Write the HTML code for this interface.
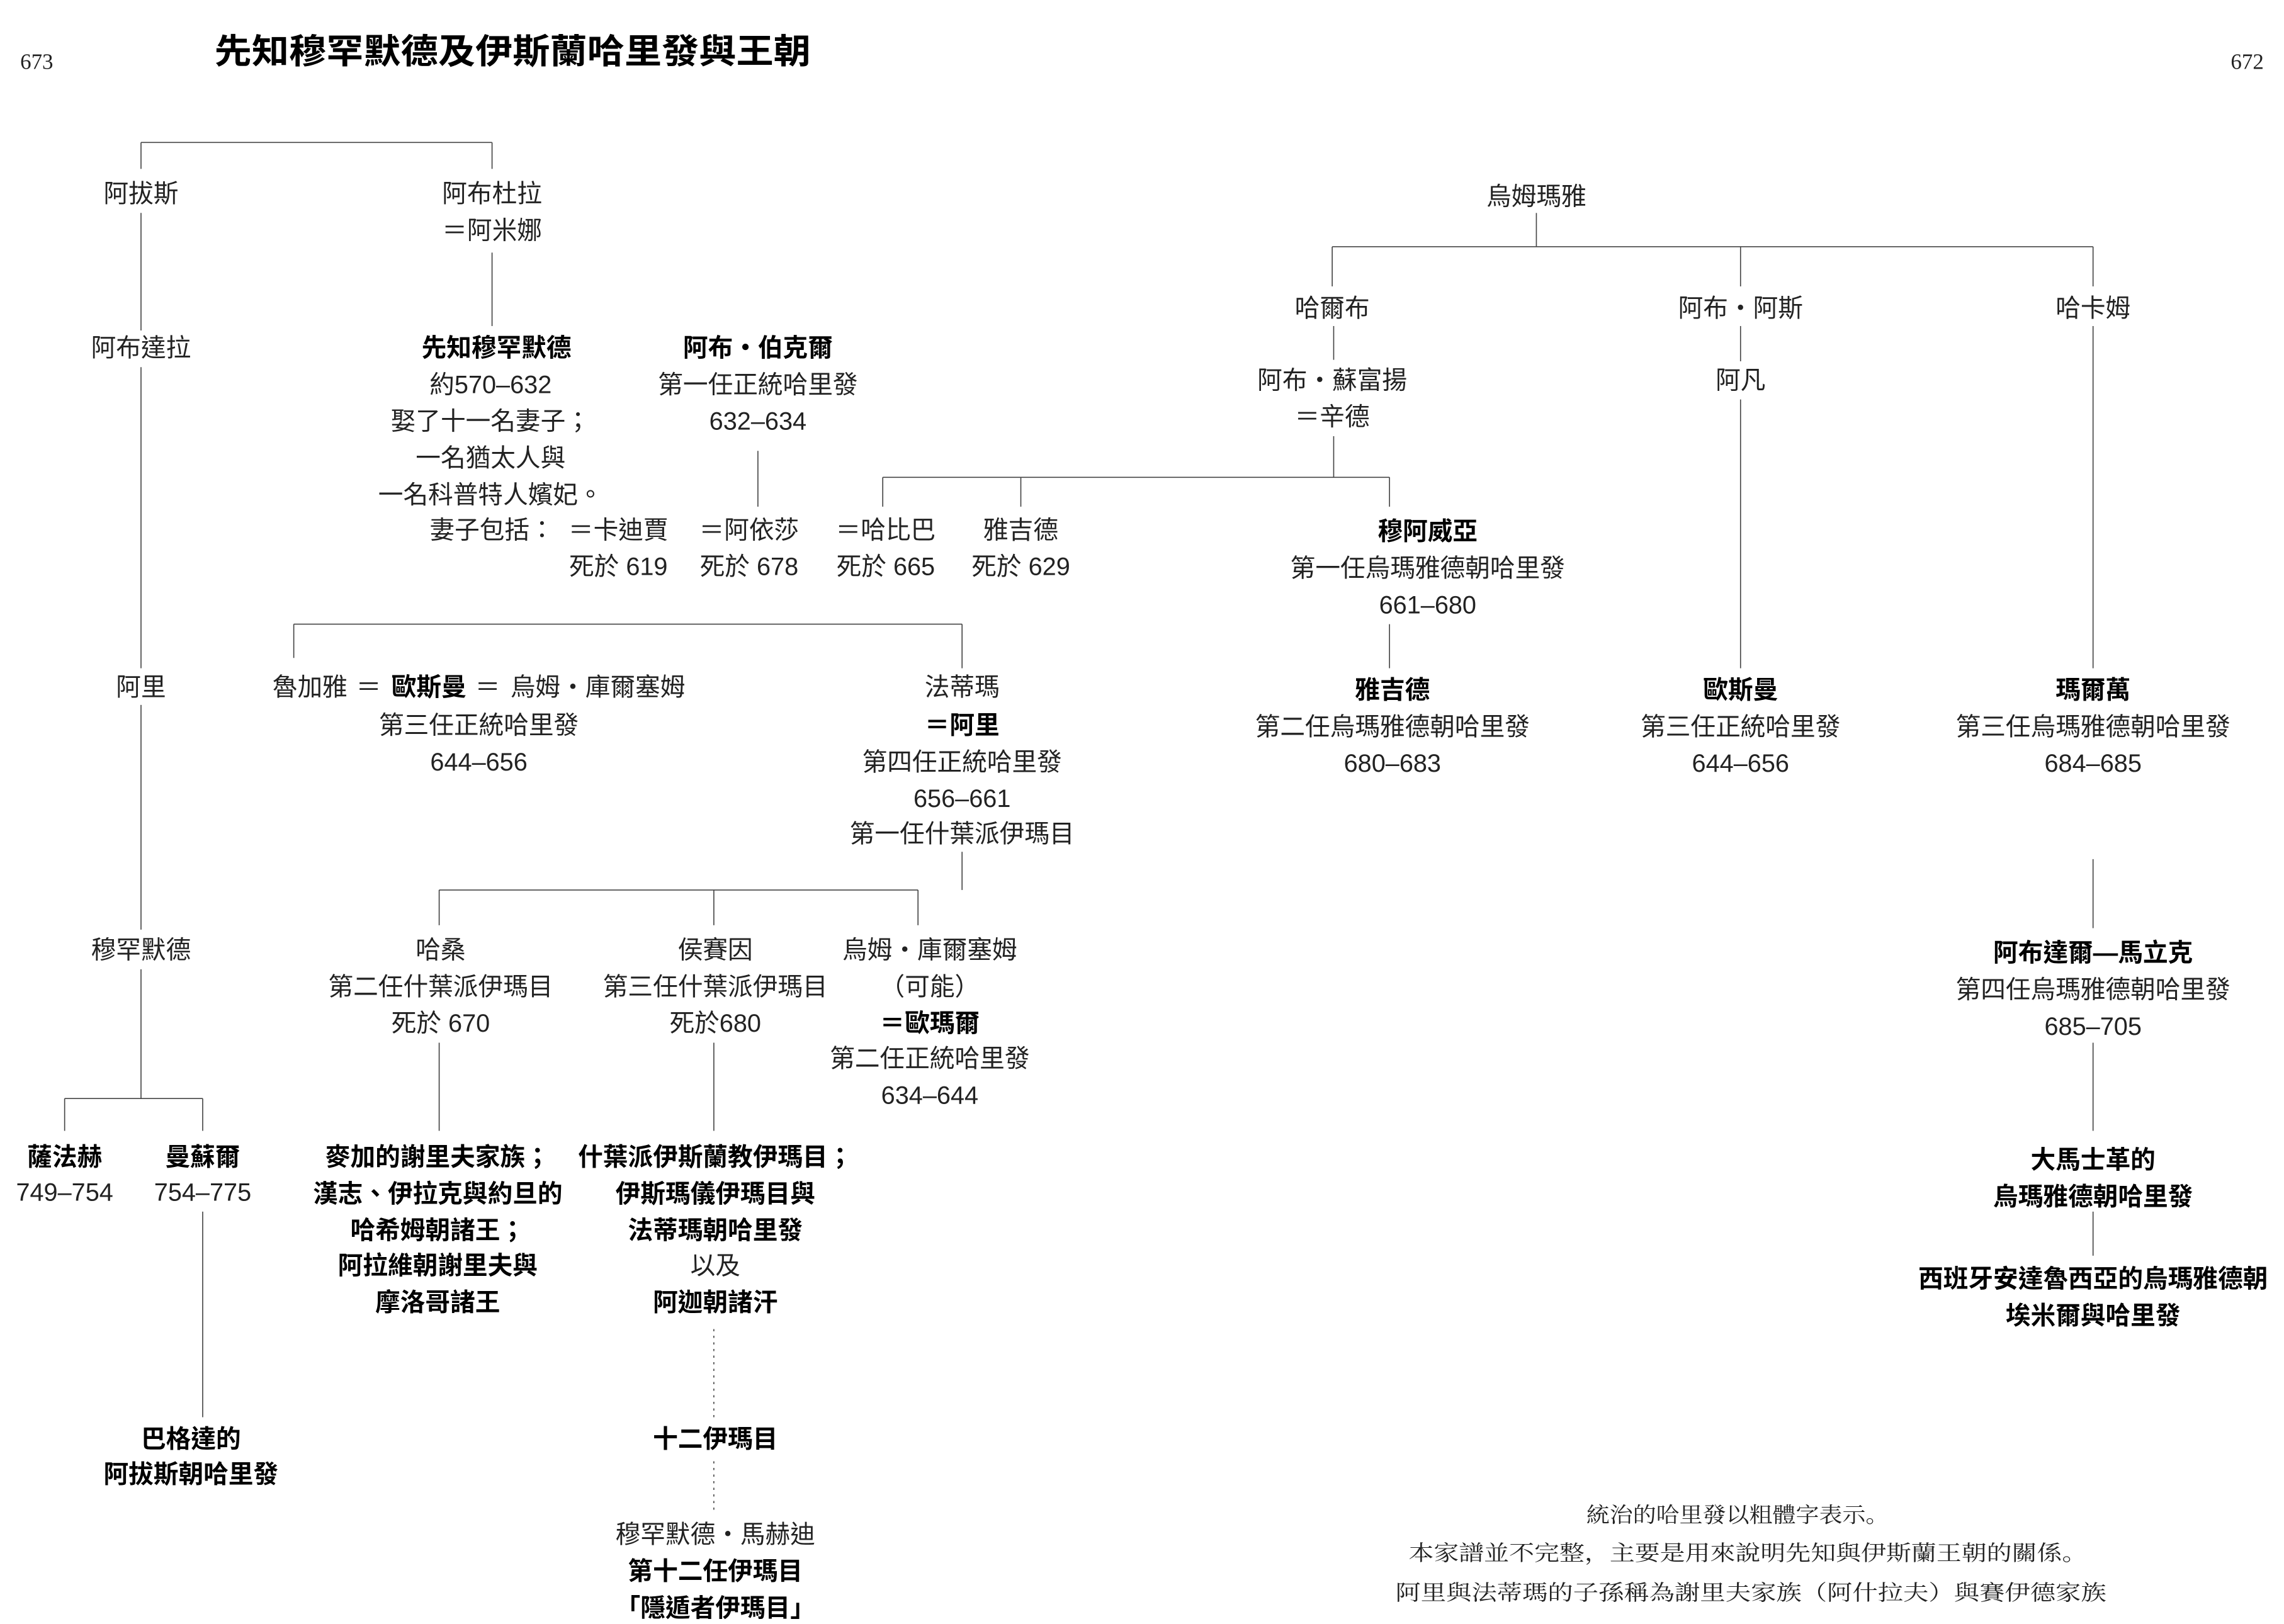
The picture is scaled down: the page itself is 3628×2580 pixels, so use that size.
<!DOCTYPE html>
<html><head><meta charset="utf-8"><style>
html,body{margin:0;padding:0;background:#fff;}
svg{display:block;}
text{font-family:"Liberation Sans","Noto Sans CJK TC",sans-serif;font-size:17px;fill:#222;text-anchor:middle;dominant-baseline:central;}
.b{font-weight:bold;fill:#000;}
.n{font-family:"Liberation Serif","Noto Serif CJK SC",serif;font-size:14.5px;}
line{stroke:#444;stroke-width:0.7;}
.d{stroke-dasharray:1.5 3;}
</style></head><body>
<svg width="3628" height="2580" viewBox="0 0 1555 1105.8" preserveAspectRatio="none">
<text x="25" y="42" style="font-family:'Liberation Serif',serif;font-size:15px">673</text>
<text x="1530" y="42" style="font-family:'Liberation Serif',serif;font-size:15px">672</text>
<text x="349" y="35" class="b" style="font-size:23.5px" textLength="406" lengthAdjust="spacingAndGlyphs">先知穆罕默德及伊斯蘭哈里發與王朝</text>

<!-- lines left -->
<line x1="96" y1="97" x2="335" y2="97"/>
<line x1="96" y1="97" x2="96" y2="115"/>
<line x1="335" y1="97" x2="335" y2="115"/>
<line x1="96" y1="145" x2="96" y2="225"/>
<line x1="96" y1="250" x2="96" y2="455"/>
<line x1="96" y1="480" x2="96" y2="633"/>
<line x1="96" y1="660" x2="96" y2="748"/>
<line x1="44" y1="748" x2="138" y2="748"/>
<line x1="44" y1="748" x2="44" y2="770"/>
<line x1="138" y1="748" x2="138" y2="770"/>
<line x1="138" y1="825" x2="138" y2="965"/>
<line x1="335" y1="172" x2="335" y2="222"/>
<line x1="516" y1="307" x2="516" y2="345"/>
<line x1="601" y1="325" x2="946" y2="325"/>
<line x1="601" y1="325" x2="601" y2="345"/>
<line x1="695" y1="325" x2="695" y2="345"/>
<line x1="946" y1="325" x2="946" y2="345"/>
<line x1="908" y1="297" x2="908" y2="325"/>
<line x1="908" y1="222" x2="908" y2="245"/>
<!-- umayya -->
<line x1="1046" y1="145" x2="1046" y2="168"/>
<line x1="907" y1="168" x2="1425" y2="168"/>
<line x1="907" y1="168" x2="907" y2="195"/>
<line x1="1185" y1="168" x2="1185" y2="195"/>
<line x1="1425" y1="168" x2="1425" y2="195"/>
<line x1="1185" y1="222" x2="1185" y2="246"/>
<line x1="1185" y1="272" x2="1185" y2="455"/>
<line x1="1425" y1="222" x2="1425" y2="455"/>
<line x1="946" y1="425" x2="946" y2="455"/>
<line x1="1425" y1="585" x2="1425" y2="632"/>
<line x1="1425" y1="710" x2="1425" y2="770"/>
<line x1="1425" y1="825" x2="1425" y2="855"/>
<!-- middle -->
<line x1="200" y1="425" x2="655" y2="425"/>
<line x1="200" y1="425" x2="200" y2="448"/>
<line x1="655" y1="425" x2="655" y2="455"/>
<line x1="655" y1="580" x2="655" y2="606"/>
<line x1="299" y1="606" x2="625" y2="606"/>
<line x1="299" y1="606" x2="299" y2="630"/>
<line x1="486" y1="606" x2="486" y2="630"/>
<line x1="625" y1="606" x2="625" y2="630"/>
<line x1="299" y1="710" x2="299" y2="770"/>
<line x1="486" y1="710" x2="486" y2="770"/>
<line x1="486" y1="905" x2="486" y2="965" class="d"/>
<line x1="486" y1="995" x2="486" y2="1030" class="d"/>

<!-- texts -->
<text x="96" y="132">阿拔斯</text>
<text x="335" y="132">阿布杜拉</text>
<text x="335" y="157">＝阿米娜</text>
<text x="96" y="237">阿布達拉</text>
<text x="338" y="237" class="b">先知穆罕默德</text>
<text x="334" y="262">約570–632</text>
<text x="334" y="287">娶了十一名妻子；</text>
<text x="334" y="312">一名猶太人與</text>
<text x="334" y="337">一名科普特人嬪妃。</text>
<text x="516" y="237" class="b">阿布・伯克爾</text>
<text x="516" y="262">第一任正統哈里發</text>
<text x="516" y="287">632–634</text>
<text x="335" y="361">妻子包括：</text>
<text x="421" y="361">＝卡迪賈</text>
<text x="510" y="361">＝阿依莎</text>
<text x="603" y="361">＝哈比巴</text>
<text x="695" y="361">雅吉德</text>
<text x="972" y="362" class="b">穆阿威亞</text>
<text x="421" y="386">死於 619</text>
<text x="510" y="386">死於 678</text>
<text x="603" y="386">死於 665</text>
<text x="695" y="386">死於 629</text>
<text x="972" y="387">第一任烏瑪雅德朝哈里發</text>
<text x="972" y="412">661–680</text>
<text x="1046" y="134">烏姆瑪雅</text>
<text x="907" y="210">哈爾布</text>
<text x="1185" y="210">阿布・阿斯</text>
<text x="1425" y="210">哈卡姆</text>
<text x="907" y="259">阿布・蘇富揚</text>
<text x="907" y="284">＝辛德</text>
<text x="1185" y="259">阿凡</text>
<text x="96" y="468">阿里</text>
<text x="211" y="468">魯加雅</text>
<text x="251" y="468">＝</text>
<text x="292" y="468" class="b">歐斯曼</text>
<text x="332" y="468">＝</text>
<text x="407" y="468">烏姆・庫爾塞姆</text>
<text x="326" y="494">第三任正統哈里發</text>
<text x="326" y="519">644–656</text>
<text x="655" y="468">法蒂瑪</text>
<text x="655" y="494" class="b">＝阿里</text>
<text x="655" y="519">第四任正統哈里發</text>
<text x="655" y="544">656–661</text>
<text x="655" y="568">第一任什葉派伊瑪目</text>
<text x="948" y="470" class="b">雅吉德</text>
<text x="948" y="495">第二任烏瑪雅德朝哈里發</text>
<text x="948" y="520">680–683</text>
<text x="1185" y="470" class="b">歐斯曼</text>
<text x="1185" y="495">第三任正統哈里發</text>
<text x="1185" y="520">644–656</text>
<text x="1425" y="470" class="b">瑪爾萬</text>
<text x="1425" y="495">第三任烏瑪雅德朝哈里發</text>
<text x="1425" y="520">684–685</text>
<text x="96" y="647">穆罕默德</text>
<text x="300" y="647">哈桑</text>
<text x="300" y="672">第二任什葉派伊瑪目</text>
<text x="300" y="697">死於 670</text>
<text x="487" y="647">侯賽因</text>
<text x="487" y="672">第三任什葉派伊瑪目</text>
<text x="487" y="697">死於680</text>
<text x="633" y="647">烏姆・庫爾塞姆</text>
<text x="633" y="672">（可能）</text>
<text x="633" y="697" class="b">＝歐瑪爾</text>
<text x="633" y="721">第二任正統哈里發</text>
<text x="633" y="746">634–644</text>
<text x="1425" y="649" class="b">阿布達爾—馬立克</text>
<text x="1425" y="674">第四任烏瑪雅德朝哈里發</text>
<text x="1425" y="699">685–705</text>
<text x="44" y="788" class="b">薩法赫</text>
<text x="44" y="812">749–754</text>
<text x="138" y="788" class="b">曼蘇爾</text>
<text x="138" y="812">754–775</text>
<text x="298" y="788" class="b">麥加的謝里夫家族；</text>
<text x="298" y="813" class="b">漢志、伊拉克與約旦的</text>
<text x="298" y="838" class="b">哈希姆朝諸王；</text>
<text x="298" y="862" class="b">阿拉維朝謝里夫與</text>
<text x="298" y="887" class="b">摩洛哥諸王</text>
<text x="487" y="788" class="b">什葉派伊斯蘭教伊瑪目；</text>
<text x="487" y="813" class="b">伊斯瑪儀伊瑪目與</text>
<text x="487" y="838" class="b">法蒂瑪朝哈里發</text>
<text x="487" y="862">以及</text>
<text x="487" y="887" class="b">阿迦朝諸汗</text>
<text x="487" y="980" class="b">十二伊瑪目</text>
<text x="487" y="1045">穆罕默德・馬赫迪</text>
<text x="487" y="1070" class="b">第十二任伊瑪目</text>
<text x="487" y="1095" class="b">「隱遁者伊瑪目」</text>
<text x="130" y="980" class="b">巴格達的</text>
<text x="130" y="1004" class="b">阿拔斯朝哈里發</text>
<text x="1425" y="790" class="b">大馬士革的</text>
<text x="1425" y="815" class="b">烏瑪雅德朝哈里發</text>
<text x="1425" y="871" class="b">西班牙安達魯西亞的烏瑪雅德朝</text>
<text x="1425" y="896" class="b">埃米爾與哈里發</text>
<text x="1183" y="1032" class="n" textLength="206" lengthAdjust="spacingAndGlyphs">統治的哈里發以粗體字表示。</text>
<text x="1190" y="1058" class="n" textLength="462" lengthAdjust="spacingAndGlyphs">本家譜並不完整，主要是用來說明先知與伊斯蘭王朝的關係。</text>
<text x="1192" y="1085" class="n" textLength="484" lengthAdjust="spacingAndGlyphs">阿里與法蒂瑪的子孫稱為謝里夫家族（阿什拉夫）與賽伊德家族</text>
</svg>
</body></html>
